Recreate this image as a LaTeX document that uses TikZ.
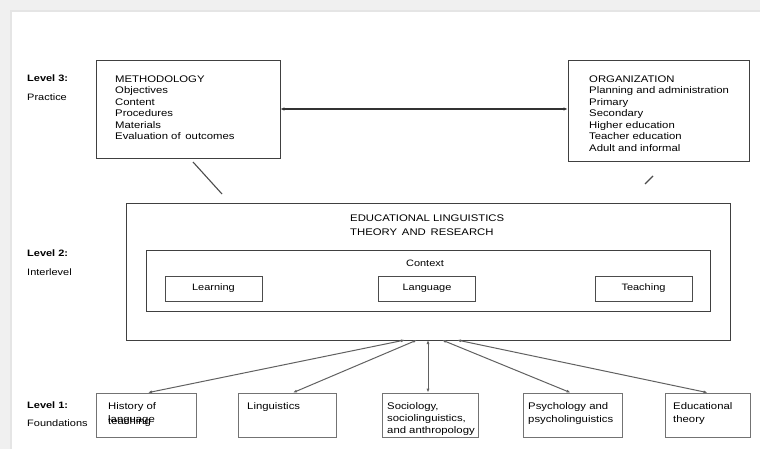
\documentclass[tikz,border=0pt]{standalone}
\usepackage{fontspec}
\setmainfont{Liberation Sans}[FakeStretch=1.18]
\usetikzlibrary{arrows.meta}

\begin{document}
\begin{tikzpicture}[x=1pt,y=-1pt,
  frame/.style={draw=black!75, line width=0.8pt, inner sep=0pt},
  inbox/.style={draw=black!70, line width=0.7pt, minimum width=97pt, minimum height=25pt,
                inner sep=0pt, font=\fontsize{9.3}{11}\selectfont},
  foot/.style={draw=black!55, line width=0.7pt, inner sep=0pt, minimum height=44pt},
  txt/.style={anchor=north west, inner sep=0pt, align=left, font=\fontsize{9.6}{11.5}\selectfont},
  ftxt/.style={anchor=north west, inner sep=0pt, align=left, font=\fontsize{9.6}{12.5}\selectfont},
  lvl/.style={anchor=west, inner sep=0pt, font=\bfseries\fontsize{9.3}{11}\selectfont},
  sublvl/.style={anchor=west, inner sep=0pt, font=\fontsize{9.3}{11}\selectfont},
  link/.style={draw=black!62, line width=1pt, {Latex[length=4pt,width=3pt]}-{Latex[length=4pt,width=3pt]}},
  bond/.style={draw=black!80, line width=1.4pt, {Latex[length=4pt,width=3.5pt]}-{Latex[length=4pt,width=3.5pt]}},
  tick/.style={draw=black!70, line width=1.1pt},
]
\useasboundingbox (0,0) rectangle (760,449);

% page background with a light margin strip
\fill[black!6] (0,0) rectangle (760,449);
\fill[white] (12,12) rectangle (760,449);
\draw[black!10, line width=1.5pt] (11,449) -- (11,11) -- (760,11);

% level labels
\node[lvl] (l3) at (27,78) {Level 3:};
\node[sublvl] (p3) at (27,97) {Practice};
\node[lvl] (l2) at (27,253) {Level 2:};
\node[sublvl] (p2) at (27,272) {Interlevel};
\node[lvl] (l1) at (27,405) {Level 1:};
\node[sublvl] (p1) at (27,423) {Foundations};

% level 3 boxes
\node[frame, minimum width=184pt, minimum height=98pt] (meth) at (188,109) {};
\node[txt] (methtxt) at (115,75.5) {METHODOLOGY\\Objectives\\Content\\Procedures\\Materials\\Evaluation of\, outcomes};
\node[frame, minimum width=181pt, minimum height=101pt] (org) at (658.5,110.5) {};
\node[txt] (orgtxt) at (589,75.5) {ORGANIZATION\\Planning and administration\\Primary\\Secondary\\Higher education\\Teacher education\\Adult and informal};
\draw[bond] (meth.east) -- (org.west |- meth.east);

% short strokes between level 3 and level 2
\coordinate (ma) at (193,162);
\coordinate (mb) at (222,194);
\draw[tick] (ma) -- (mb);
\coordinate (oa) at (645,184);
\coordinate (ob) at (653,176);
\draw[tick] (oa) -- (ob);

% level 2
\node[frame, minimum width=604pt, minimum height=137pt] (big) at (428,271.5) {};
\node[anchor=north west, inner sep=0pt, align=left, font=\fontsize{9.6}{14}\selectfont] (title) at (350,214.5)
  {EDUCATIONAL LINGUISTICS\\THEORY\, AND\, RESEARCH};
\node[frame, minimum width=564pt, minimum height=61pt] (ctx) at (428,280.5) {};
\node[inner sep=0pt, font=\fontsize{9.3}{11}\selectfont] (ctxtxt) at (425,263) {Context};
\node[inbox] (learn) at (213.5,288.5) {Learning};
\node[inbox] (lang) at (427,288.5) {Language};
\node[inbox] (teach) at (643.5,288.5) {Teaching};

% level 1 boxes
\node[foot, minimum width=100pt] (hist) at (146,415) {};
\node[ftxt] (histtxt) at (108,402.5) {History of\\language};
\node[ftxt] (histtxt2) at (108,417) {teaching};
\node[foot, minimum width=98pt] (ling) at (287,415) {};
\node[ftxt] (lingtxt) at (247,402.5) {Linguistics};
\node[foot, minimum width=96pt] (soc) at (430,415) {};
\node[anchor=north west, inner sep=0pt, align=left, font=\fontsize{9.6}{11.8}\selectfont] (soctxt) at (387,402.5)
  {Sociology,\\sociolinguistics,\\and anthropology};
\node[foot, minimum width=99pt] (psy) at (572.5,415) {};
\node[ftxt] (psytxt) at (528,402.5) {Psychology and\\psycholinguistics};
\node[foot, minimum width=85pt] (edu) at (707.5,415) {};
\node[ftxt] (edutxt) at (673,402.5) {Educational\\theory};

% links from the foundations up to level 2
\coordinate (t1) at (405,340);
\coordinate (t2) at (417,340);
\coordinate (t3) at (428,340);
\coordinate (t4) at (442,340);
\coordinate (t5) at (457,340);
\draw[link] (t1) -- ([xshift=2pt]hist.north);
\draw[link] (t2) -- ([xshift=6pt]ling.north);
\draw[link] (t3) -- (t3 |- soc.north);
\draw[link] (t4) -- ([xshift=-2pt]psy.north);
\draw[link] (t5) -- (edu.north);
\end{tikzpicture}
\end{document}
